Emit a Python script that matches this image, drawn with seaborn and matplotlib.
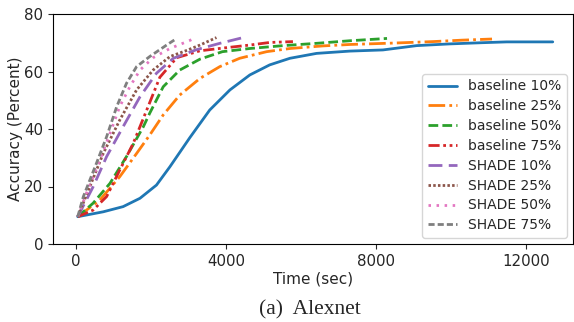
import numpy as np
import pandas as pd
import matplotlib
matplotlib.use("Agg")
import matplotlib.pyplot as plt
import seaborn as sns

# ---- data ----
b10_t = [50, 730, 1260, 1710, 2150, 2510, 3040, 3570, 4110, 4640, 5170, 5710, 6420, 7310, 8190, 9090, 9970, 10800, 11490, 12720]
b10_a = [9.5, 11.2, 13.0, 15.9, 20.5, 26.9, 37.0, 46.6, 53.6, 58.8, 62.3, 64.6, 66.3, 67.1, 67.5, 69.0, 69.6, 70.0, 70.3, 70.3]

b25_t = [50, 640, 1170, 1620, 1970, 2330, 2770, 3310, 3840, 4370, 5090, 5710, 6590, 7310, 8500, 9520, 10300, 11100]
b25_a = [9.5, 15.3, 23.4, 31.5, 37.9, 44.9, 51.8, 57.6, 61.7, 64.6, 66.9, 68.0, 68.9, 69.4, 69.9, 70.4, 70.9, 71.3]

b50_t = [50, 460, 910, 1350, 1800, 1970, 2330, 2770, 3310, 3910, 4640, 5530, 6420, 7310, 8300]
b50_a = [9.5, 14.2, 21.1, 30.4, 40.8, 45.5, 54.7, 60.5, 64.3, 66.9, 68.0, 69.0, 69.8, 70.7, 71.5]

b75_t = [50, 460, 820, 1170, 1530, 1890, 2240, 2690, 3310, 4020, 4640, 5170, 5790]
b75_a = [9.5, 11.8, 16.5, 25.7, 35.0, 46.6, 58.0, 64.8, 67.2, 68.3, 69.2, 70.1, 70.4]

s10_t = [50, 460, 820, 1260, 1710, 2150, 2600, 3220, 3840, 4460]
s10_a = [9.5, 19.9, 30.4, 40.8, 51.2, 59.4, 64.6, 67.6, 69.8, 71.8]

s25_t = [50, 370, 730, 1170, 1620, 2060, 2510, 2950, 3310, 3750]
s25_a = [9.5, 19.9, 31.5, 43.1, 53.6, 60.5, 65.2, 67.3, 69.2, 71.8]

s50_t = [50, 280, 640, 910, 1170, 1440, 1710, 2060, 2510, 3040, 3100]
s50_a = [9.5, 17.6, 29.2, 38.5, 47.8, 54.7, 60.5, 64.8, 68.0, 70.8, 71.2]

s75_t = [50, 200, 550, 820, 1090, 1350, 1620, 1970, 2420, 2690]
s75_a = [9.5, 16.5, 28.1, 37.3, 47.8, 55.9, 61.7, 65.2, 69.2, 71.5]

labels = ["baseline 10%", "baseline 25%", "baseline 50%", "baseline 75%",
          "SHADE 10%", "SHADE 25%", "SHADE 50%", "SHADE 75%"]
series_t = [b10_t, b25_t, b50_t, b75_t, s10_t, s25_t, s50_t, s75_t]
series_a = [b10_a, b25_a, b50_a, b75_a, s10_a, s25_a, s50_a, s75_a]

rows = []
for lab, ts, acc in zip(labels, series_t, series_a):
    for t, a in zip(ts, acc):
        rows.append({"Time": t, "Accuracy": a, "Series": lab})
df = pd.DataFrame(rows)

# ---- style ----
sns.set_style("ticks")
plt.rcParams["font.family"] = ["DejaVu Sans"]
palette = dict(zip(labels, sns.color_palette("tab10", 8)))
dashes = {
    "baseline 10%": "",
    "baseline 25%": (6.0, 1.5, 1, 1.5),
    "baseline 50%": (3.5, 1.5),
    "baseline 75%": (4.0, 1.3, 1, 1.3, 1, 1.3),
    "SHADE 10%": (5.0, 2.3),
    "SHADE 25%": (0.9, 0.8),
    "SHADE 50%": (0.9, 2.0),
    "SHADE 75%": (2.2, 1.1),
}

fig = plt.figure(figsize=(5.74, 3.22), dpi=100)
ax = fig.add_axes([53 / 574, 1 - 244 / 322, 520 / 574, 230 / 322])
sns.lineplot(data=df, x="Time", y="Accuracy", hue="Series", style="Series",
             hue_order=labels, style_order=labels, palette=palette, dashes=dashes,
             linewidth=2.0, sort=False, estimator=None, ax=ax)

ax.set_xlim(-610, 13260)
ax.set_ylim(0, 80)
ax.set_xticks([0, 4000, 8000, 12000])
ax.set_yticks([0, 20, 40, 60, 80])
ax.tick_params(labelsize=10.8)
ax.set_xlabel("Time (sec)", fontsize=11, labelpad=2)
ax.set_ylabel("Accuracy (Percent)", fontsize=11, labelpad=1)
for s in ax.spines.values():
    s.set_visible(True)
    s.set_color("black")
    s.set_linewidth(0.8)

leg = ax.legend(loc="lower right", fontsize=10, frameon=True, handlelength=2.1,
                labelspacing=0.42, borderaxespad=0.45)
leg.get_frame().set_edgecolor("#cccccc")

fig.text(309.5 / 574, 1 - 310 / 322, "(a)  Alexnet", ha="center", va="center",
         fontsize=15.5, family=["Liberation Serif"])

fig.savefig("out.png", dpi=100)
